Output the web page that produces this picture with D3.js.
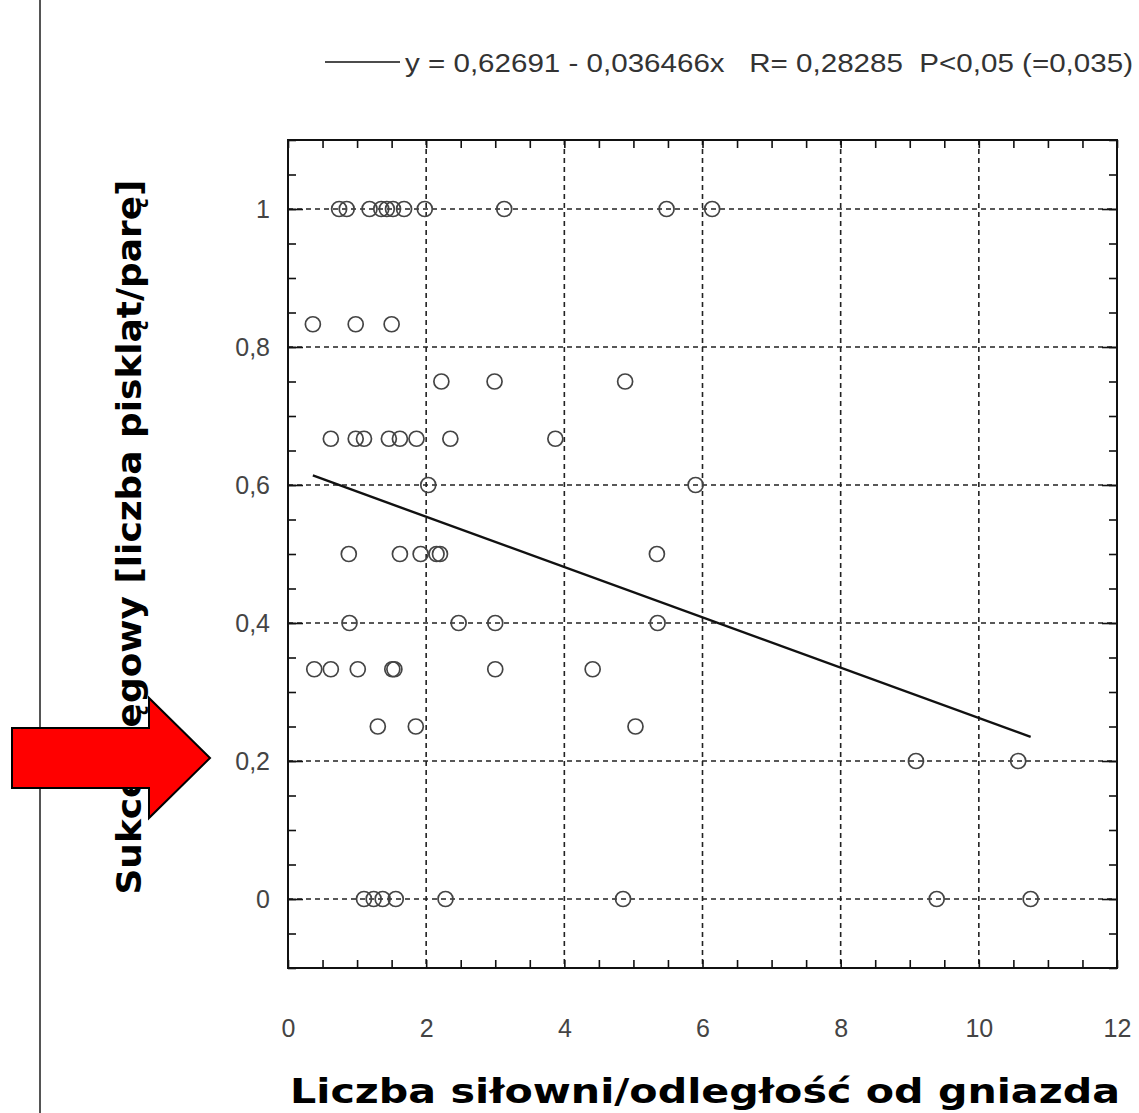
<!DOCTYPE html>
<html><head><meta charset="utf-8">
<script src="https://cdn.jsdelivr.net/npm/d3@7"></script>
<style>body{margin:0;background:#fff}svg{display:block}</style>
</head><body>
<script>
// Data: x = Liczba siłowni/odległość od gniazda, y = Sukces lęgowy
const xs = [0.74,0.85,1.18,1.35,1.43,1.52,1.68,1.98,3.13,5.48,6.14,
            0.36,0.98,1.50,
            2.22,2.99,4.88,
            0.62,0.98,1.10,1.46,1.62,1.86,2.35,3.87,
            2.03,5.90,
            0.88,1.62,1.92,2.15,2.20,5.34,
            0.89,2.47,3.00,5.35,
            0.38,0.62,1.01,1.51,1.54,3.00,4.41,
            1.30,1.85,5.03,
            9.09,10.57,
            1.10,1.24,1.37,1.56,2.28,4.85,9.39,10.75];
const ys = [1,1,1,1,1,1,1,1,1,1,1,
            0.833,0.833,0.833,
            0.75,0.75,0.75,
            0.667,0.667,0.667,0.667,0.667,0.667,0.667,0.667,
            0.6,0.6,
            0.5,0.5,0.5,0.5,0.5,0.5,
            0.4,0.4,0.4,0.4,
            0.333,0.333,0.333,0.333,0.333,0.333,0.333,
            0.25,0.25,0.25,
            0.2,0.2,
            0,0,0,0,0,0,0,0];
const intercept = 0.62691, slope = -0.036466;
const xTicks = [0,2,4,6,8,10,12];
const yTicks = [0,0.2,0.4,0.6,0.8,1];
const xTickLabels = ["0","2","4","6","8","10","12"];
const yTickLabels = ["0","0,2","0,4","0,6","0,8","1"];
const legendText = "y = 0,62691 - 0,036466x   R= 0,28285  P<0,05 (=0,035)";
const yTitle = "Sukces lęgowy [liczba piskląt/parę]";
const xTitle = "Liczba siłowni/odległość od gniazda";

const W = 1139, H = 1113;
const svg = d3.select("body").append("svg").attr("width", W).attr("height", H);

const x = d3.scaleLinear().domain([0,12]).range([288,1117]);
const y = d3.scaleLinear().domain([-0.1,1.1]).range([968,140]);

// left page line
svg.append("line").attr("x1",40).attr("x2",40).attr("y1",0).attr("y2",H)
  .attr("stroke","#555").attr("stroke-width",2);

const g = svg.append("g");
// grid
g.selectAll(".gx").data(xTicks.slice(1,-1)).join("line")
  .attr("x1",d=>x(d)).attr("x2",d=>x(d)).attr("y1",y(1.1)).attr("y2",y(-0.1))
  .attr("stroke","#222").attr("stroke-width",1.6).attr("stroke-dasharray","5,4");
g.selectAll(".gy").data(yTicks).join("line")
  .attr("x1",x(0)).attr("x2",x(12)).attr("y1",d=>y(d)).attr("y2",d=>y(d))
  .attr("stroke","#222").attr("stroke-width",1.6).attr("stroke-dasharray","5,4");

// minor ticks via axes
const xMinor = d3.range(0,12.01,0.5);
const yMinor = d3.range(-0.1,1.101,0.05).map(v=>+v.toFixed(2));
function styleAxis(sel){ sel.select(".domain").remove(); sel.selectAll("line").attr("stroke","#111").attr("stroke-width",1.6); sel.selectAll("text").remove(); }
svg.append("g").attr("transform",`translate(0,${y(-0.1)})`)
  .call(d3.axisTop(x).tickValues(xMinor).tickSize(8)).call(styleAxis);
svg.append("g").attr("transform",`translate(0,${y(1.1)})`)
  .call(d3.axisBottom(x).tickValues(xMinor).tickSize(8)).call(styleAxis);
svg.append("g").attr("transform",`translate(${x(0)},0)`)
  .call(d3.axisRight(y).tickValues(yMinor).tickSize(8)).call(styleAxis);
svg.append("g").attr("transform",`translate(${x(12)},0)`)
  .call(d3.axisLeft(y).tickValues(yMinor).tickSize(8)).call(styleAxis);
// major ticks longer
svg.append("g").attr("transform",`translate(${x(0)},0)`)
  .call(d3.axisRight(y).tickValues(yTicks).tickSize(15)).call(styleAxis);
svg.append("g").attr("transform",`translate(${x(12)},0)`)
  .call(d3.axisLeft(y).tickValues(yTicks).tickSize(15)).call(styleAxis);

// frame
svg.append("rect").attr("x",x(0)).attr("y",y(1.1)).attr("width",x(12)-x(0)).attr("height",y(-0.1)-y(1.1))
  .attr("fill","none").attr("stroke","#111").attr("stroke-width",2);

// tick labels
const xAxisLab = svg.append("g").attr("transform",`translate(0,${y(-0.1)})`)
  .call(d3.axisBottom(x).tickValues(xTicks).tickSize(0).tickPadding(0).tickFormat((d,i)=>xTickLabels[i]));
xAxisLab.select(".domain").remove();
xAxisLab.selectAll("text").attr("dy",null).attr("y",69).attr("font-family","Liberation Sans, Arial, sans-serif").attr("font-size",25).attr("fill","#444");
const yAxisLab = svg.append("g").attr("transform",`translate(${x(0)},0)`)
  .call(d3.axisLeft(y).tickValues(yTicks).tickSize(0).tickPadding(18).tickFormat((d,i)=>yTickLabels[i]));
yAxisLab.select(".domain").remove();
yAxisLab.selectAll("text").attr("font-family","Liberation Sans, Arial, sans-serif").attr("font-size",25).attr("fill","#444");

// points
svg.append("g").selectAll("circle").data(xs.map((v,i)=>[v,ys[i]])).join("circle")
  .attr("cx",d=>x(d[0])).attr("cy",d=>y(d[1])).attr("r",7.5)
  .attr("fill","none").attr("stroke","#444").attr("stroke-width",1.7);

// regression line
const x0 = d3.min(xs), x1 = d3.max(xs);
svg.append("line").attr("x1",x(x0)).attr("y1",y(intercept+slope*x0)).attr("x2",x(x1)).attr("y2",y(intercept+slope*x1))
  .attr("stroke","#111").attr("stroke-width",2.4);

// legend
svg.append("line").attr("x1",325).attr("x2",400).attr("y1",62).attr("y2",62).attr("stroke","#111").attr("stroke-width",1.6);
svg.append("text").attr("x",405).attr("y",72).attr("font-family","Liberation Sans, Arial, sans-serif")
  .attr("font-size",26).attr("fill","#333").attr("textLength",728).attr("lengthAdjust","spacingAndGlyphs")
  .attr("xml:space","preserve").style("white-space","pre").text(legendText);

// titles
svg.append("text").attr("transform","translate(141,537) rotate(-90)").attr("text-anchor","middle")
  .attr("font-family","DejaVu Sans, Verdana, sans-serif").attr("font-weight","bold").attr("font-size",33).attr("fill","#000")
  .attr("textLength",715).attr("lengthAdjust","spacingAndGlyphs").text(yTitle);
svg.append("text").attr("x",705).attr("y",1103).attr("text-anchor","middle")
  .attr("font-family","DejaVu Sans, Verdana, sans-serif").attr("font-weight","bold").attr("font-size",34).attr("fill","#000")
  .attr("textLength",830).attr("lengthAdjust","spacingAndGlyphs").text(xTitle);

// red arrow
const arrowPts = [[12,728],[149,728],[149,698],[210,758],[149,818],[149,788],[12,788]];
svg.append("polygon").attr("points",arrowPts.map(p=>p.join(",")).join(" "))
  .attr("fill","#ff0000").attr("stroke","#000").attr("stroke-width",2);
</script>
</body></html>
